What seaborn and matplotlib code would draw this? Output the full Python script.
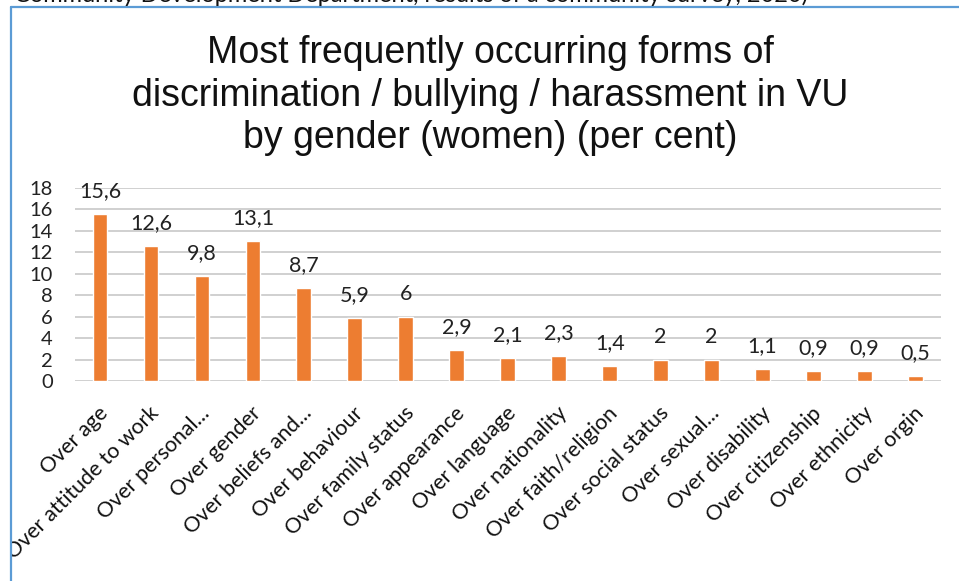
import matplotlib
matplotlib.use("Agg")
import matplotlib.pyplot as plt
import matplotlib.transforms as mtransforms
from matplotlib.lines import Line2D
from matplotlib.patches import Rectangle
import seaborn as sns
import pandas as pd

# --- data -------------------------------------------------------------
categories = [
    "Over age", "Over attitude to work", "Over personal...", "Over gender",
    "Over beliefs and...", "Over behaviour", "Over family status",
    "Over appearance", "Over language", "Over nationality",
    "Over faith/religion", "Over social status", "Over sexual...",
    "Over disability", "Over citizenship", "Over ethnicity", "Over orgin",
]
values = [15.6, 12.6, 9.8, 13.1, 8.7, 5.9, 6, 2.9, 2.1, 2.3, 1.4, 2, 2,
          1.1, 0.9, 0.9, 0.5]
y_ticks = [0, 2, 4, 6, 8, 10, 12, 14, 16, 18]

title_lines = [
    "Most frequently occurring forms of",
    "discrimination / bullying / harassment in VU",
    "by gender (women) (per cent)",
]
source_line = "Community Development Department, results of a community survey, 2020)"

# --- style ------------------------------------------------------------
sns.set_theme(style="white")
plt.rcParams["font.family"] = ["Lato", "DejaVu Sans"]

W, H = 959, 581
fig = plt.figure(figsize=(W / 100, H / 100), dpi=100)
fig.patch.set_facecolor("white")


def fx(px):
    return px / W


def fy(py):
    return 1 - py / H


ax = fig.add_axes([fx(74.5), fy(381), fx(941) - fx(74.5), fy(188) - fy(381)])

df = pd.DataFrame({"form": categories, "share": values})
sns.barplot(data=df, x="form", y="share", color="#ED7D31", saturation=1,
            width=0.29, ax=ax, zorder=3)

ax.set_xlim(-0.5, len(categories) - 0.5)
ax.set_ylim(0, 18)
ax.set_yticks(y_ticks)
ax.set_xlabel("")
ax.set_ylabel("")
ax.yaxis.grid(True, color="#d0d0d0", linewidth=1.4, zorder=0)
ax.xaxis.grid(False)
for s in ax.spines.values():
    s.set_visible(False)

ax.tick_params(axis="y", length=0, pad=15.5, labelsize=14.5, labelcolor="#222222")
ax.tick_params(axis="x", length=0, pad=21, labelsize=15.5, labelcolor="#111111")
ax.set_xticks(range(len(categories)))
ax.set_xticklabels(categories, rotation=45, ha="right", va="center",
                   rotation_mode="anchor")
shift = mtransforms.ScaledTranslation(5 / 100, 0, fig.dpi_scale_trans)
for lab in ax.get_xticklabels():
    lab.set_transform(lab.get_transform() + shift)

# value labels above bars
for patch, v in zip(ax.patches, values):
    cx = patch.get_x() + patch.get_width() / 2
    ax.annotate(f"{v:g}".replace(".", ","), (cx, v), xytext=(0, 16.5),
                textcoords="offset points", ha="center", va="center",
                fontsize=15.5, color="#222222", annotation_clip=False)

# title
for i, line in enumerate(title_lines):
    fig.text(fx(490), fy(63 + 42.5 * i), line, ha="center", va="baseline",
             fontsize=27, family=["Liberation Sans", "DejaVu Sans"],
             color="#111111")

# frame around the chart
fig.patches.append(Rectangle((0, 0), fx(9.5), 1, transform=fig.transFigure,
                             facecolor="white", edgecolor="none", zorder=10))
fig.lines.append(Line2D([fx(10.5), fx(10.5)], [0, fy(7)], transform=fig.transFigure,
                        color="#5B9BD5", linewidth=1.6, zorder=11))
fig.lines.append(Line2D([fx(10.5), 1], [fy(7), fy(7)], transform=fig.transFigure,
                        color="#5B9BD5", linewidth=1.6, zorder=11))

# source line running off the top edge
fig.text(fx(14), fy(2), source_line, ha="left", va="baseline", fontsize=17,
         color="#111111", zorder=12)

fig.savefig("out.png", dpi=100, facecolor="white")
